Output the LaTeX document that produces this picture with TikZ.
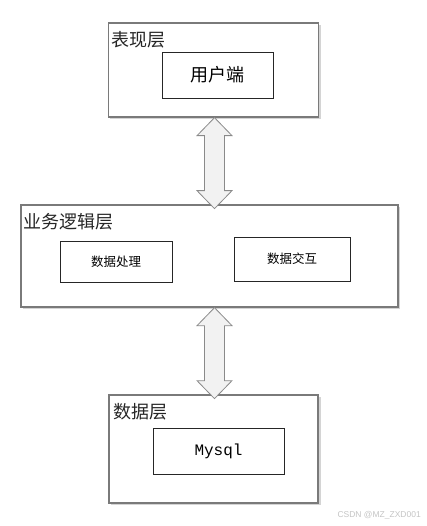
\documentclass[tikz,border=0pt]{standalone}
\usepackage{fontspec}
\setmainfont{Liberation Serif}
\newfontfamily\cjk{Noto Sans CJK SC}
\newfontfamily\monof{Liberation Mono}
\newfontfamily\wmfont{Liberation Sans}
\definecolor{outerc}{HTML}{7A7A7A}
\definecolor{shadowc}{HTML}{D4D4D4}
\definecolor{arrowfill}{HTML}{F2F2F2}
\definecolor{arrowline}{HTML}{8A8A8A}
\definecolor{wmc}{HTML}{C4C4C4}
\begin{document}
\begin{tikzpicture}[x=1pt,y=-1pt,
  layerbox/.style={draw=outerc,line width=1.3pt,fill=white},
  innerbox/.style={draw=black!85,line width=0.9pt,fill=white,inner sep=0pt},
  layerlabel/.style={anchor=west,inner sep=0pt,font=\cjk\fontsize{18}{18}\selectfont,text=black!85},
  dblarrow/.style={draw=arrowline,fill=arrowfill,line width=0.8pt,line join=miter}]
\useasboundingbox (0,0) rectangle (427,526);
% shadows
\fill[shadowc] (110,25) rectangle (321,119);
\fill[shadowc] (23,207) rectangle (400,309);
\fill[shadowc] (111,397) rectangle (321,505);
% layer boxes
\node[layerbox,minimum width=210pt,minimum height=94pt,inner sep=0pt] (top) at (213.5,70) {};
\node[layerbox,minimum width=377pt,minimum height=102pt,inner sep=0pt] (mid) at (209.5,256) {};
\node[layerbox,minimum width=209pt,minimum height=108pt,inner sep=0pt] (bot) at (213.5,449) {};
% labels
\node[layerlabel] (l1) at (111,40) {表现层};
\node[layerlabel] (l2) at (23,222) {业务逻辑层};
\node[layerlabel] (l3) at (113,412) {数据层};
% inner boxes
\node[innerbox,minimum width=111pt,minimum height=46pt,font=\cjk\fontsize{18}{18}\selectfont] (ui) at (217.5,75) {用户端};
\node[innerbox,minimum width=112pt,minimum height=41pt,font=\cjk\fontsize{12.5}{13}\selectfont] (proc) at (116,261.5) {数据处理};
\node[innerbox,minimum width=116pt,minimum height=44pt,font=\cjk\fontsize{12.5}{13}\selectfont] (inter) at (292,259) {数据交互};
\node[innerbox,minimum width=131pt,minimum height=46pt,font=\monof\fontsize{16}{16}\selectfont] (db) at (218.5,451) {Mysql};
% double arrows
\coordinate (ax) at (214.5,0);
\draw[dblarrow] (ax |- top.south)
  -- ++(17.5,18) -- ++(-7.5,0) -- ++(0,55) -- ++(7.5,0) -- ++(-17.5,18)
  -- ++(-17.5,-18) -- ++(7.5,0) -- ++(0,-55) -- ++(-7.5,0) -- cycle;
\draw[dblarrow] (ax |- mid.south)
  -- ++(17.5,18) -- ++(-7.5,0) -- ++(0,55) -- ++(7.5,0) -- ++(-17.5,18)
  -- ++(-17.5,-18) -- ++(7.5,0) -- ++(0,-55) -- ++(-7.5,0) -- cycle;
% watermark
\node[anchor=east,inner sep=0pt,font=\wmfont\fontsize{8.5}{9}\selectfont,text=wmc] (wm) at (421,515) {CSDN @MZ\_ZXD001};
\end{tikzpicture}
\end{document}
